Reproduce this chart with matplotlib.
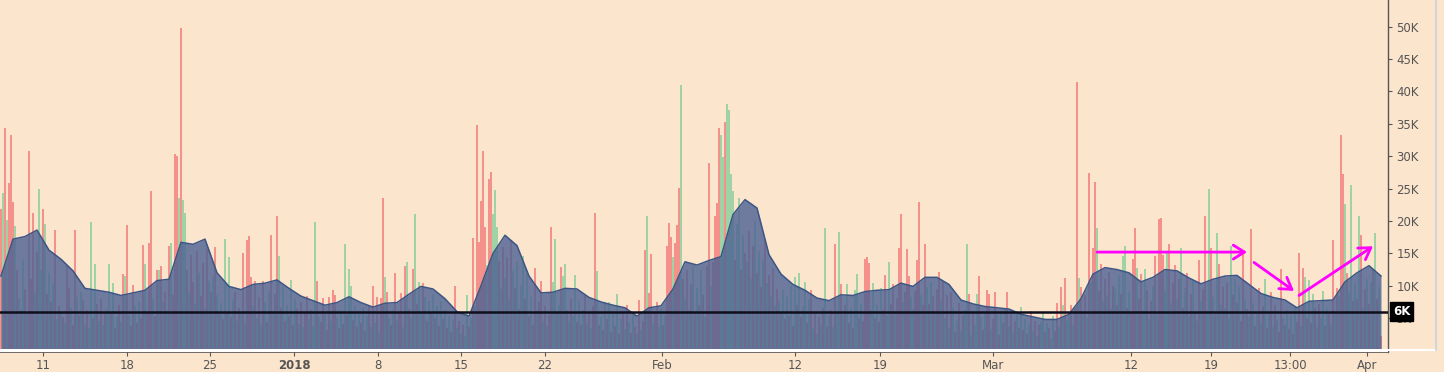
"""
4h volume bars with a moving-average area, Dec 2017 - Apr 2018.
Values in thousands, read off the reference picture.
"""

import numpy as np
import matplotlib
matplotlib.use("Agg")
import matplotlib.pyplot as plt
from matplotlib.lines import Line2D
from matplotlib.transforms import blended_transform_factory, offset_copy

# ===================================================
# Data: 4h volume (K), one list per week, 6 bars a day
# direction: R = down bar (red), G = up bar (green)
# ===================================================

vol_w01 = [21.9, 24.3, 34.4, 20.2, 25.8, 33.3,
           23.0, 19.2, 12.5, 8.1, 6.2, 14.0,
           9.5, 5.8, 30.8, 11.0, 21.3, 9.0,
           15.2, 24.9, 12.4, 21.8, 19.5, 8.8,
           12.0, 7.5, 10.2, 18.6, 4.8, 6.9,
           6.0, 5.2, 4.3, 13.2, 9.6, 6.5,
           4.0, 18.6, 8.2, 5.5, 9.0, 7.8]
dir_w01 = "RGRGRR RGRGRG RGRRRG RGGRGR GRGRGR GRGRRG RRGRGR"

vol_w02 = [4.0, 6.2, 3.5, 19.9, 5.0, 13.4,
           7.2, 4.6, 8.0, 3.9, 5.8, 6.4,
           13.4, 6.0, 10.4, 3.5, 5.1, 7.0,
           4.4, 11.8, 11.5, 19.4, 5.5, 3.8,
           10.1, 6.8, 4.2, 7.5, 5.0, 16.3,
           13.4, 6.0, 16.6, 24.6, 8.0, 5.3,
           12.4, 12.4, 13.0, 7.5, 9.0, 6.2]
dir_w02 = "GRGGRG RGRGRG GRGRGR GRGRGR RGRGRR GRRRGR RGRGRG"

vol_w03 = [16.1, 16.6, 8.5, 30.4, 30.0, 23.5,
           49.8, 23.2, 21.3, 12.5, 9.0, 14.8,
           10.6, 7.2, 15.3, 12.0, 8.4, 13.5,
           6.5, 15.6, 10.8, 9.0, 11.4, 16.0,
           8.5, 5.6, 7.3, 4.8, 17.2, 6.0,
           14.4, 5.2, 7.8, 9.0, 4.5, 6.6,
           5.8, 15.0, 4.2, 17.0, 17.7, 11.4]
dir_w03 = "RGRRRG RGGRGR RGRGRR GRGRGR GRGRGR GRGRGR GRGRRR"

vol_w04 = [6.8, 10.7, 5.0, 8.2, 3.9, 10.7,
           7.5, 4.4, 9.2, 17.8, 6.0, 8.8,
           20.7, 14.6, 6.5, 9.8, 4.6, 7.0,
           5.4, 10.9, 3.9, 8.0, 6.6, 4.1,
           7.5, 3.6, 5.8, 8.4, 4.9, 6.3,
           3.8, 19.9, 10.7, 5.2, 4.4, 8.1,
           5.7, 3.2, 8.3, 4.6, 9.3, 8.6]
dir_w04 = "GRGRGR GRGRGR RGRGRG RGRGRG RGRRGR GGRGRR GRRGRR"

vol_w05 = [5.0, 3.4, 6.3, 4.1, 16.4, 5.5,
           12.6, 9.9, 4.7, 6.8, 3.6, 5.9,
           4.2, 6.5, 3.0, 5.3, 6.9, 3.7,
           9.9, 4.3, 8.3, 2.8, 8.1, 23.6,
           11.4, 9.1, 5.0, 3.9, 6.2, 12.0,
           4.6, 6.0, 8.9, 3.7, 13.0, 13.7,
           6.4, 5.1, 12.6, 21.1, 7.2, 10.6]
dir_w05 = "GRGRGR GGRGRG RGRGRG RGRGRR GRGRGR GRRGRG RGRGRG"

vol_w06 = [6.0, 10.4, 8.3, 4.5, 7.6, 5.8,
           8.8, 5.0, 6.9, 3.8, 7.7, 4.9,
           6.3, 3.5, 5.4, 2.9, 4.7, 9.9,
           3.4, 4.6, 2.6, 3.9, 2.2, 8.6,
           3.6, 5.0, 17.4, 6.8, 34.8, 16.8,
           23.1, 30.8, 19.1, 13.2, 26.5, 27.6,
           21.1, 24.8, 19.1, 13.8, 9.5, 16.0]
dir_w06 = "GRGRGR GRGRGR GRGRGR GRGRGG RGRGRR RRRGRR GGGRGR"

vol_w07 = [11.2, 14.5, 8.0, 17.0, 12.3, 9.6,
           13.6, 6.4, 10.1, 14.6, 8.0, 11.8,
           5.3, 8.2, 4.0, 12.7, 6.3, 7.5,
           10.7, 4.6, 6.8, 3.8, 5.5, 19.0,
           10.6, 17.2, 5.8, 7.0, 12.9, 11.5,
           13.4, 6.2, 4.5, 8.0, 5.4, 11.7,
           4.4, 7.6, 3.9, 6.2, 8.5, 4.2]
dir_w07 = "GRGRGR GRGGRG RGRRGR RGRGRR GGRGRG GRGRGG RGRGRG"

vol_w08 = [5.6, 3.5, 6.8, 21.3, 12.3, 4.0,
           5.2, 3.2, 7.5, 4.8, 7.5, 2.9,
           5.6, 3.8, 8.7, 2.6, 4.9, 6.1,
           3.3, 7.0, 4.4, 2.7, 5.5, 3.6,
           2.5, 7.8, 3.1, 4.6, 15.5, 20.8,
           8.9, 14.9, 4.2, 5.8, 7.5, 3.6,
           6.4, 4.0, 5.5, 16.2, 19.7, 17.6]
dir_w08 = "RGRRGR GRGRGR GRGRGR GRGRGR GRGRRG RRGRRG GRGRRR"

vol_w09 = [14.5, 16.6, 19.4, 25.1, 41.0, 11.0,
           8.0, 12.4, 6.3, 10.2, 13.0, 5.8,
           9.6, 7.0, 12.4, 8.5, 5.2, 13.0,
           29.0, 10.0, 13.6, 20.8, 22.8, 34.3,
           33.3, 29.9, 35.3, 38.1, 37.2, 27.3,
           24.6, 14.0, 19.6, 23.5, 12.5, 17.8,
           15.0, 13.7, 18.5, 11.0, 16.2, 20.0]
dir_w09 = "GRRRGR GRGRGR GRGRGR RGRRRR GGRGGG GRGGRG RGRGRG"

vol_w10 = [12.0, 15.4, 9.8, 14.0, 17.0, 10.5,
           11.6, 8.4, 12.8, 6.9, 9.5, 7.6,
           6.0, 9.4, 4.8, 8.2, 5.4, 10.0,
           3.8, 11.3, 7.0, 12.0, 5.2, 6.8,
           10.6, 4.2, 7.9, 9.4, 3.3, 6.0,
           2.6, 5.2, 4.0, 6.5, 18.9, 3.6,
           5.4, 6.2, 3.7, 16.4, 6.0, 18.3]
dir_w10 = "RGRGRG RGRGRG RGRGRG RGRGRG GRGRGR GRGRGR GRGRGG"

vol_w11 = [10.3, 5.5, 7.0, 10.3, 4.2, 6.6,
           3.5, 9.4, 11.8, 5.0, 7.2, 4.5,
           14.1, 14.4, 13.5, 6.2, 10.4, 5.0,
           7.0, 4.4, 9.6, 6.3, 11.7, 5.5,
           13.6, 7.2, 10.3, 6.0, 8.1, 15.9,
           21.1, 7.5, 9.0, 15.6, 11.5, 8.2,
           6.4, 9.2, 14.0, 22.9, 8.5, 7.0]
dir_w11 = "RGRGRG RGGRGR RRRGGR GRGRRG GRRGRR RGRRRG GRRRGR"

vol_w12 = [16.4, 9.8, 7.2, 10.6, 8.4, 6.0,
           9.5, 12.2, 7.7, 10.8, 5.0, 8.6,
           3.5, 9.0, 6.6, 2.8, 4.6, 7.4,
           3.0, 5.5, 6.3, 16.4, 8.8, 2.4,
           6.0, 4.0, 8.8, 11.5, 5.1, 3.2,
           5.8, 9.4, 8.7, 3.3, 4.8, 9.0,
           5.5, 2.4, 6.1, 4.2, 6.4, 9.0]
dir_w12 = "RGRGRG RRGRGR GRGRGR GRGGRG RGGRGR GRRGRR GRGRGR"

vol_w13 = [3.8, 5.6, 2.9, 4.5, 5.9, 3.4,
           6.7, 3.2, 4.9, 2.6, 4.0, 6.1,
           3.0, 4.6, 2.3, 3.9, 4.4, 6.0,
           2.8, 4.2, 3.5, 1.9, 5.3, 3.0,
           7.4, 3.6, 9.8, 7.0, 11.2, 4.5,
           5.8, 7.0, 3.9, 6.5, 41.4, 11.2,
           9.8, 6.0, 8.6, 5.0, 27.4, 10.5]
dir_w13 = "GRGRGR GRGRGR GRGRGG RGRGGR RGRGRG GRGRRG RGRGRG"

vol_w14 = [15.9, 26.0, 18.9, 9.2, 13.3, 7.6,
           11.0, 8.5, 12.2, 6.4, 10.0, 9.5,
           7.0, 11.6, 8.8, 14.6, 16.1, 6.5,
           9.0, 5.8, 14.2, 18.9, 12.8, 8.0,
           11.8, 6.2, 12.6, 9.4, 4.8, 7.7,
           10.0, 14.6, 5.6, 20.3, 20.5, 14.8,
           9.2, 15.0, 16.5, 7.4, 10.5, 13.2]
dir_w14 = "RRGRRG RGRGRG RGRGGR GRRRGR RGGRGR GRGRRR GGRGRR"

vol_w15 = [8.0, 11.0, 15.8, 6.6, 9.6, 12.0,
           5.4, 8.7, 10.8, 6.0, 4.5, 14.0,
           7.6, 9.5, 20.8, 6.2, 24.9, 15.9,
           8.3, 5.6, 18.2, 13.4, 7.0, 9.8,
           6.6, 10.4, 5.0, 16.1, 8.6, 11.0,
           7.3, 9.8, 4.6, 15.0, 8.0, 6.4,
           5.2, 18.7, 7.4, 3.8, 6.0, 9.7]
dir_w15 = "GRGRGR GRGRGR GRRGGR GRGRGR GRGGRG RGRRGR GRGRGR"

vol_w16 = [4.3, 6.8, 11.0, 3.5, 5.6, 9.1,
           3.6, 7.0, 4.7, 2.9, 12.6, 5.0,
           4.0, 6.2, 3.3, 5.5, 2.6, 6.8,
           4.4, 15.0, 3.8, 12.7, 11.4, 5.0,
           10.9, 4.2, 8.8, 6.5, 3.6, 7.2,
           5.0, 9.2, 3.8, 6.4, 5.7, 4.0,
           17.1, 6.0, 9.7, 8.2, 33.3, 27.3]
dir_w16 = "GRGRGR GRGRRG RGRGRG RRGRGR GRGRGR GGRGRG RGRGRR"

vol_w17 = [22.6, 12.0, 9.0, 25.6, 7.6, 10.4,
           8.0, 20.7, 17.8, 6.5, 9.5, 11.0,
           7.2, 10.6, 12.4, 18.2, 8.0, 9.8,
           2.2]
dir_w17 = "GRGGRG RGRGRG RGRGRG R"

# moving average of volume (K), sampled once a day (every 6th bar)
ma_part1 = [11.5, 17.2, 17.6, 18.6, 15.5, 14.1, 12.3, 9.6, 9.3, 9.0,
            8.5, 8.9, 9.3, 10.8, 11.0, 16.7, 16.4, 17.2, 12.0, 9.9]
ma_part2 = [9.4, 10.2, 10.4, 10.9, 9.6, 8.4, 7.7, 7.0, 7.4, 8.3,
            7.4, 6.7, 7.3, 7.4, 8.7, 9.9, 9.5, 8.0, 6.0, 5.3]
ma_part3 = [10.0, 15.0, 17.8, 16.2, 11.5, 8.9, 9.0, 9.6, 9.5, 8.2,
            7.5, 7.0, 6.6, 5.3, 6.6, 6.9, 9.5, 13.7, 13.2, 13.9]
ma_part4 = [14.5, 21.0, 23.3, 22.0, 14.8, 11.8, 10.2, 9.3, 8.1, 7.7,
            8.6, 8.5, 9.1, 9.3, 9.4, 10.4, 9.9, 11.3, 11.3, 10.2]
ma_part5 = [7.8, 7.2, 6.8, 6.6, 6.4, 5.6, 5.2, 4.8, 4.8, 5.6,
            8.0, 11.8, 12.8, 12.5, 12.0, 10.6, 11.3, 12.5, 12.3, 11.2]
ma_part6 = [10.3, 11.0, 11.5, 11.6, 10.2, 8.8, 8.2, 7.8, 6.6, 7.6,
            7.7, 7.8, 10.6, 12.0, 13.1, 11.5]

level_line = 6  # horizontal marker, K

ytick_vals = [5, 10, 15, 20, 25, 30, 35, 40, 45, 50]
xtick_labels = ["11", "18", "25", "2018", "8", "15", "22", "Feb",
                "12", "19", "Mar", "12", "19", "13:00", "Apr"]
xtick_bars = [21, 63, 104.5, 146.5, 188.5, 230, 272, 330.5,
              397, 439.5, 496, 565, 605, 644.5, 683]

# hand-drawn arrows (bar index, K)
arrows = [((548, 15.2), (623, 15.2)),
          ((626.5, 13.6), (646.5, 9.2)),
          ((649, 8.5), (686, 16.1))]

# ===================================================
# Assemble
# ===================================================

vol = np.array(vol_w01 + vol_w02 + vol_w03 + vol_w04 + vol_w05 + vol_w06
               + vol_w07 + vol_w08 + vol_w09 + vol_w10 + vol_w11 + vol_w12
               + vol_w13 + vol_w14 + vol_w15 + vol_w16 + vol_w17)
dirs = "".join([dir_w01, dir_w02, dir_w03, dir_w04, dir_w05, dir_w06,
                dir_w07, dir_w08, dir_w09, dir_w10, dir_w11, dir_w12,
                dir_w13, dir_w14, dir_w15, dir_w16, dir_w17]).replace(" ", "")
ma = np.array(ma_part1 + ma_part2 + ma_part3 + ma_part4 + ma_part5 + ma_part6)

bar_idx = np.arange(len(vol))
ma_idx = np.arange(len(ma)) * 6

BG = "#fce5cd"
RED = "#f3918a"
GREEN = "#9fd3a5"
colors = [RED if d == "R" else GREEN for d in dirs]

W, H = 1444, 372
fig = plt.figure(figsize=(W / 100, H / 100), dpi=100, facecolor=BG)
ax = fig.add_axes([0, 20 / H, 1388 / W, 352 / H], facecolor=BG)

ax.bar(bar_idx, vol, width=0.7, color=colors, linewidth=0, zorder=1)
ax.fill_between(ma_idx, ma, 0, color="#4a6193", alpha=0.8, linewidth=0, zorder=2)
ax.plot(ma_idx, ma, color="#3b5585", linewidth=1.1, zorder=3)

ax.axhline(level_line, color="#0e0e1c", linewidth=1.8, zorder=4)
ax.axhspan(-1, 0.3, color="white", zorder=5, linewidth=0)

for (x0, y0), (x1, y1) in arrows:
    ax.annotate("", xy=(x1, y1), xytext=(x0, y0), zorder=6,
                arrowprops=dict(arrowstyle="->,head_length=0.4,head_width=0.25",
                                color="#ff00ff", lw=2.0, mutation_scale=20,
                                shrinkA=0, shrinkB=0))

ax.set_xlim(-0.5, 693.5)
ax.set_ylim(-0.23, 54.13)

# axes styling
for side in ("left", "top"):
    ax.spines[side].set_visible(False)
ax.spines["right"].set_color("#555555")
ax.spines["bottom"].set_color("#555555")
ax.spines["right"].set_linewidth(1.0)
ax.spines["bottom"].set_linewidth(1.2)

ax.yaxis.tick_right()
ax.set_yticks(ytick_vals)
ax.set_yticklabels([f"{v}K" for v in ytick_vals])
ax.tick_params(axis="y", colors="#555555", labelsize=8.5, length=3, pad=3)

ax.set_xticks(xtick_bars)
ax.set_xticklabels(xtick_labels)
ax.tick_params(axis="x", colors="#555555", labelsize=8.5, length=3, pad=2)
for lbl in ax.get_xticklabels():
    if lbl.get_text() == "2018":
        lbl.set_fontweight("bold")

# level tag on the price scale
trans = offset_copy(blended_transform_factory(ax.transAxes, ax.transData),
                    fig=fig, x=5, y=0, units="dots")
ax.text(1.0, level_line, "6K", transform=trans, ha="left", va="center",
        color="white", fontsize=8.5, fontweight="bold", clip_on=False, zorder=10,
        bbox=dict(boxstyle="square,pad=0.25", facecolor="black", edgecolor="black"))

# frame bits outside the axes
fig.add_artist(Line2D([1388 / W, 1435 / W], [22.5 / H, 22.5 / H],
                      color="white", linewidth=1.5))
fig.add_artist(Line2D([1436 / W, 1436 / W], [22 / H, 1.0],
                      color="#c9d1dc", linewidth=1.2))

fig.savefig("out.png", dpi=100, facecolor=BG)
